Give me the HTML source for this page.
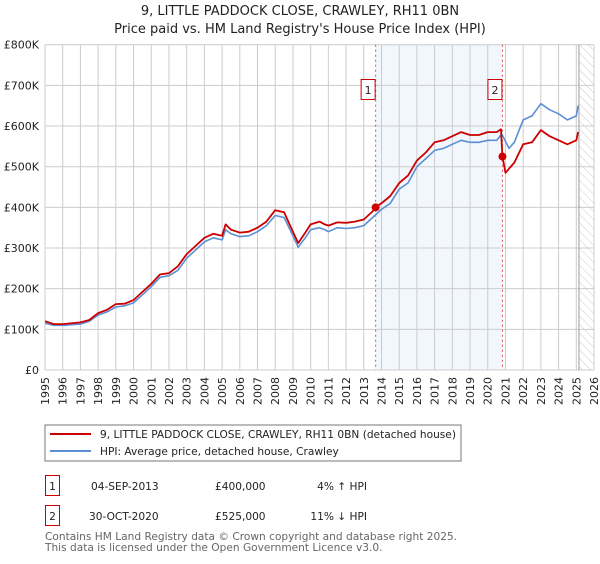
<!DOCTYPE html>
<html><head><meta charset="utf-8"><style>
body{margin:0;background:#fff;font-family:"DejaVu Sans","Liberation Sans",sans-serif;}
svg text{font-family:"DejaVu Sans","Liberation Sans",sans-serif;}
</style></head><body>
<svg id="c" width="600" height="560" viewBox="0 0 600 560" xmlns="http://www.w3.org/2000/svg">
<defs><pattern id="hatch" width="6" height="6" patternUnits="userSpaceOnUse" patternTransform="rotate(-45)"><line x1="0" y1="0" x2="0" y2="6" stroke="#ccc" stroke-width="1"/></pattern></defs>
<text x="300" y="15" text-anchor="middle" font-size="13" fill="#222">9, LITTLE PADDOCK CLOSE, CRAWLEY, RH11 0BN</text>
<text x="300" y="33" text-anchor="middle" font-size="13" fill="#222">Price paid vs. HM Land Registry's House Price Index (HPI)</text>
<g id="grid"></g><g id="marks"></g><g id="axes"></g>
<rect x="45" y="425" width="416" height="36" fill="#fff" stroke="#777"/>
<line x1="50" y1="434" x2="91" y2="434" stroke="#cc0000" stroke-width="2"/>
<text x="100" y="438" font-size="10.6" fill="#222">9, LITTLE PADDOCK CLOSE, CRAWLEY, RH11 0BN (detached house)</text>
<line x1="50" y1="451" x2="91" y2="451" stroke="#5b8fd4" stroke-width="2"/>
<text x="100" y="455" font-size="10.6" fill="#222">HPI: Average price, detached house, Crawley</text>
<g>
<rect x="45.5" y="475.5" width="14" height="20" fill="#fff" stroke="#cc0000"/>
<text x="52.5" y="490" font-size="10.6" text-anchor="middle" fill="#222">1</text>
<text x="91" y="490" font-size="10.6" fill="#222">04-SEP-2013</text>
<text x="215" y="490" font-size="10.6" fill="#222">£400,000</text>
<text x="367" y="490" font-size="10.6" text-anchor="end" fill="#222">4% ↑ HPI</text></g>
<g>
<rect x="45.5" y="505.5" width="14" height="20" fill="#fff" stroke="#cc0000"/>
<text x="52.5" y="520" font-size="10.6" text-anchor="middle" fill="#222">2</text>
<text x="89" y="520" font-size="10.6" fill="#222">30-OCT-2020</text>
<text x="215" y="520" font-size="10.6" fill="#222">£525,000</text>
<text x="367" y="520" font-size="10.6" text-anchor="end" fill="#222">11% ↓ HPI</text></g>
<text x="45" y="540" font-size="10.6" fill="#666">Contains HM Land Registry data © Crown copyright and database right 2025.</text>
<text x="45" y="551" font-size="10.6" fill="#666">This data is licensed under the Open Government Licence v3.0.</text>
</svg>
<script>
const hpiYears=[1995,1995.5,1996,1997,1997.5,1998,1998.5,1999,1999.5,2000,2000.5,2001,2001.5,2002,2002.5,2003,2003.5,2004,2004.5,2005,2005.2,2005.5,2006,2006.5,2007,2007.5,2008,2008.5,2009,2009.3,2009.7,2010,2010.5,2010.8,2011,2011.5,2012,2012.5,2013,2013.5,2014,2014.5,2015,2015.5,2016,2016.5,2017,2017.5,2018,2018.5,2019,2019.5,2020,2020.5,2020.8,2021.2,2021.5,2022,2022.5,2023,2023.5,2024,2024.5,2025,2025.1];
const hpiValues=[115,110,110,113,120,135,143,155,158,165,185,205,228,232,245,275,295,315,325,320,345,335,328,330,340,355,380,375,330,302,325,345,350,345,340,350,348,350,355,375,395,410,445,460,500,520,540,545,555,565,560,560,565,565,580,545,560,615,625,655,640,630,615,625,650];
const priceYears=[1995,1995.5,1996,1997,1997.5,1998,1998.5,1999,1999.5,2000,2000.5,2001,2001.5,2002,2002.5,2003,2003.5,2004,2004.5,2005,2005.2,2005.5,2006,2006.5,2007,2007.5,2008,2008.5,2009,2009.3,2009.7,2010,2010.5,2010.8,2011,2011.5,2012,2012.5,2013,2013.5,2013.67,2014,2014.5,2015,2015.5,2016,2016.5,2017,2017.5,2018,2018.5,2019,2019.5,2020,2020.5,2020.75,2020.83,2021,2021.5,2022,2022.5,2023,2023.5,2024,2024.5,2025,2025.1];
const priceValues=[120,113,113,117,123,140,148,162,163,172,192,212,235,238,255,285,305,325,335,330,358,345,338,340,350,365,393,388,340,312,338,358,365,358,355,363,362,365,370,390,400,410,428,460,478,515,535,560,565,575,585,578,578,585,585,592,525,485,510,555,560,590,575,565,555,565,585];
const saleLabels=["1","2"];
const saleYears=[2013.67,2020.83];
const saleValues=[400,525];
const yTicks=[0,100,200,300,400,500,600,700,800];
const yTickLabels=["£0","£100K","£200K","£300K","£400K","£500K","£600K","£700K","£800K"];
const xTicks=[1995,1996,1997,1998,1999,2000,2001,2002,2003,2004,2005,2006,2007,2008,2009,2010,2011,2012,2013,2014,2015,2016,2017,2018,2019,2020,2021,2022,2023,2024,2025,2026];
const dataEnd=2025.15;

const L=45,R=594,T=44.7,B=370;
const X=y=>L+(y-1995)/(2026-1995)*(R-L);
const Y=v=>B-v/800*(B-T);
const NS="http://www.w3.org/2000/svg";
function mk(p,tag,at){const e=document.createElementNS(NS,tag);for(const k in at)e.setAttribute(k,at[k]);p.appendChild(e);return e;}
const grid=document.getElementById('grid'),marks=document.getElementById('marks'),axes=document.getElementById('axes');
let r=mk(grid,'rect',{x:X(saleYears[0]),y:T,width:X(saleYears[1])-X(saleYears[0]),height:B-T,fill:'#eef3fc',opacity:'0.75'});


r=mk(grid,'rect',{x:X(dataEnd),y:T,width:R-X(dataEnd),height:B-T,fill:'url(#hatch)'});


xTicks.forEach(t=>{const l=mk(grid,'line',{x1:X(t),x2:X(t),y1:T,y2:B,stroke:'#ccc','stroke-width':1});


const tx=mk(axes,'text',{x:0,y:0,'font-size':11,fill:'#222','text-anchor':'end',transform:`translate(${X(t)+4},377) rotate(-90)`});tx.textContent=t;

});
yTicks.forEach((t,i)=>{const l=mk(grid,'line',{x1:L,x2:R,y1:Y(t),y2:Y(t),stroke:'#ccc','stroke-width':1});


const tx=mk(axes,'text',{x:39,y:Y(t)+4,'font-size':11,fill:'#222','text-anchor':'end'});tx.textContent=yTickLabels[i];

});
let vl=mk(grid,'line',{x1:X(dataEnd),x2:X(dataEnd),y1:T,y2:B,stroke:'#999','stroke-width':1});


saleYears.forEach((s,i)=>{const l=mk(marks,'line',{x1:X(s),x2:X(s),y1:T,y2:B,stroke:'#e05050','stroke-width':1,'stroke-dasharray':'2,3'});

});
function path(xs,vs,col,w,name){const d=xs.map((x,i)=>(i?'L':'M')+X(x).toFixed(1)+','+Y(vs[i]).toFixed(1)).join('');
const p=mk(marks,'path',{d:d,fill:'none',stroke:col,'stroke-width':w,'stroke-linejoin':'round'});

}
path(hpiYears,hpiValues,'#5b8fd4',1.6,'hpi-line');
path(priceYears,priceValues,'#cc0000',1.8,'price-line');
saleYears.forEach((s,i)=>{const c=mk(marks,'circle',{cx:X(s),cy:Y(saleValues[i]),r:4,fill:'#cc0000'});


const g=mk(marks,'g',{});


mk(g,'rect',{x:X(s)-14.5,y:79.5,width:14,height:20,fill:'#fff',stroke:'#cc0000'});
const t=mk(g,'text',{x:X(s)-7.5,y:94,'font-size':11,'text-anchor':'middle',fill:'#222'});t.textContent=saleLabels[i];});
</script>
</body></html>
